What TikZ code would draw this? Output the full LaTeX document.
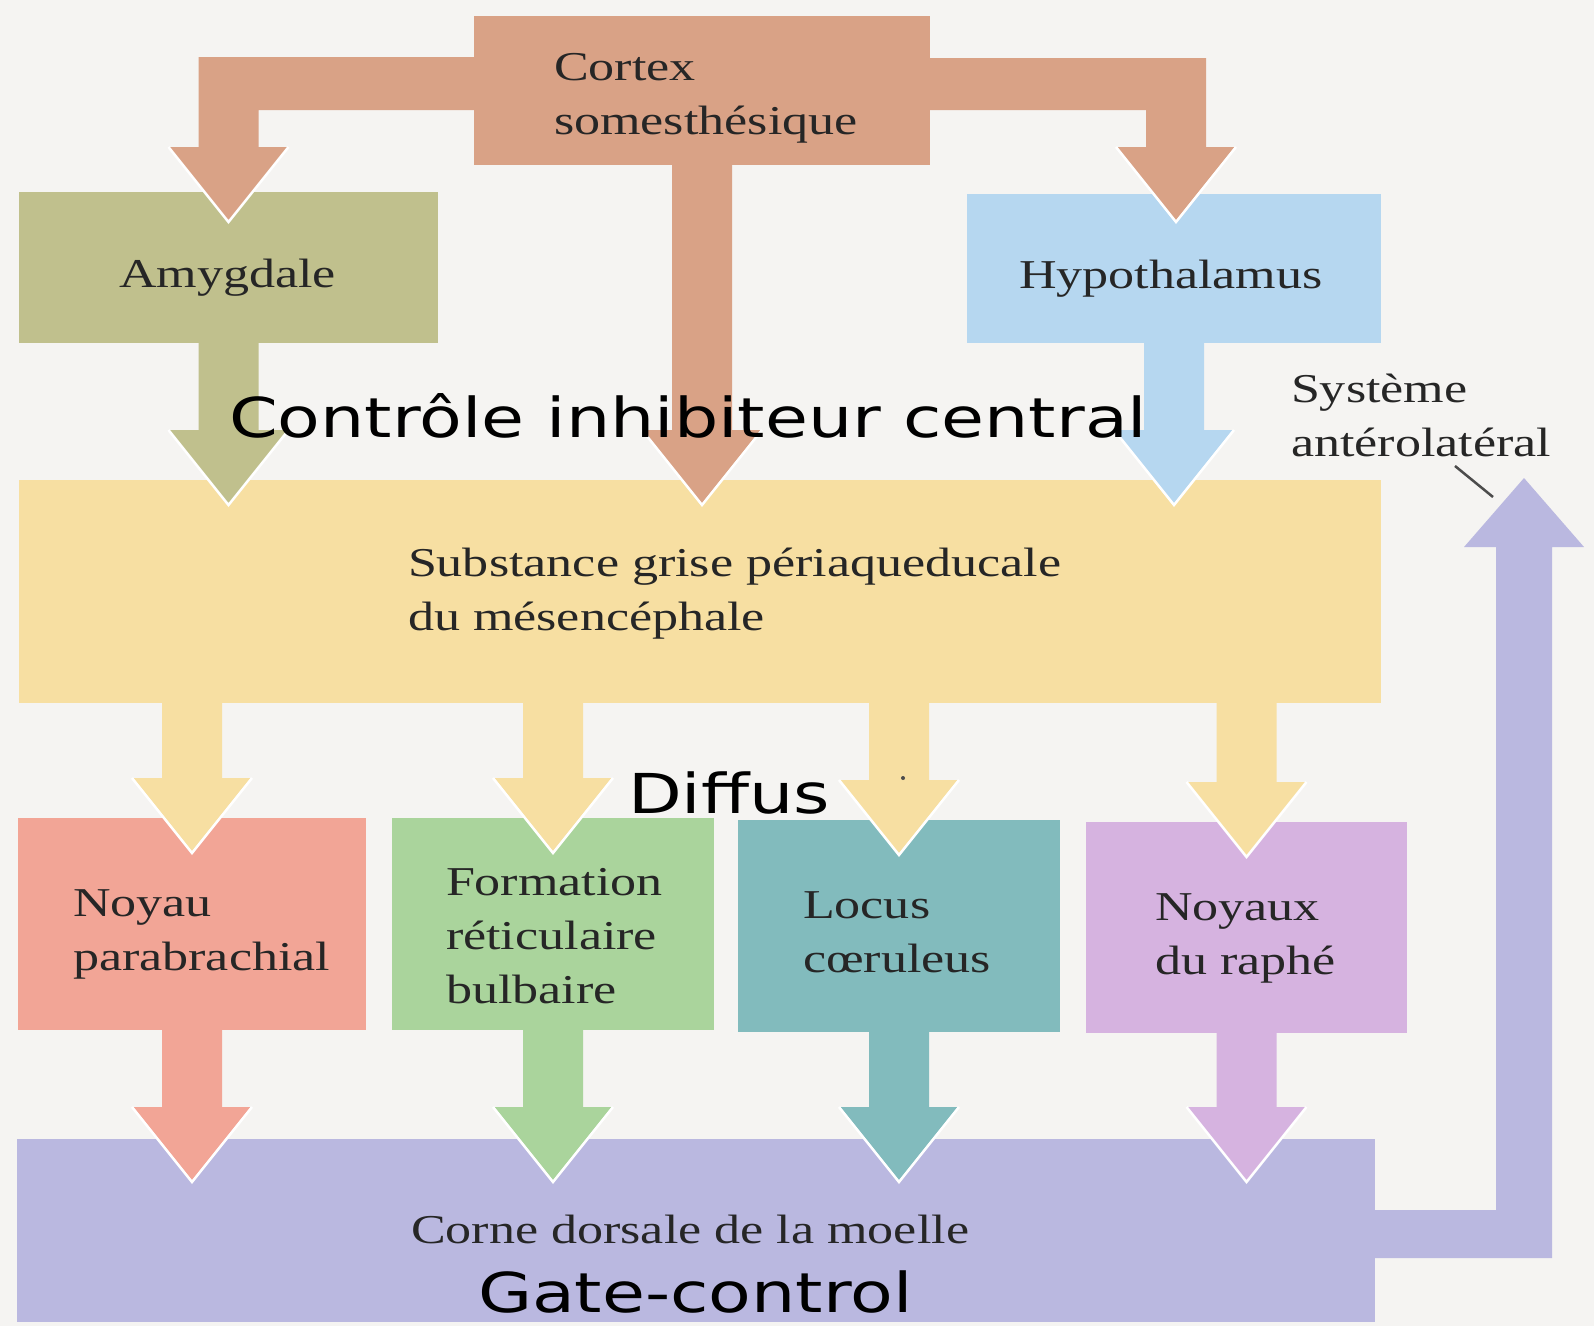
\documentclass[tikz,border=0pt]{standalone}
\usepackage{fontspec}
\setmainfont{Liberation Serif}[FakeStretch=1.27]
\newfontfamily\comicfont{DejaVu Sans}[FakeStretch=1.27]
\usetikzlibrary{calc}
\definecolor{bgc}{HTML}{F5F4F2}
\definecolor{cortexc}{HTML}{D9A286}
\definecolor{amyc}{HTML}{C0C08D}
\definecolor{hypc}{HTML}{B6D7F0}
\definecolor{pagc}{HTML}{F7DFA2}
\definecolor{noyc}{HTML}{F2A596}
\definecolor{forc}{HTML}{AAD49C}
\definecolor{locc}{HTML}{82BBBD}
\definecolor{raphc}{HTML}{D6B3E0}
\definecolor{cornec}{HTML}{BAB8E0}
\definecolor{txt}{HTML}{262626}
\newcommand\blockdown[3]{%
  \fill[#1] let \p1=#2, \p2=#3 in
    (\x2-30pt,\y1) -- (\x2+30pt,\y1) -- (\x2+30pt,\y2+75pt) -- (\x2+60pt,\y2+75pt)
    -- (\x2,\y2) -- (\x2-60pt,\y2+75pt) -- (\x2-30pt,\y2+75pt) -- cycle;
  \draw[headedge] let \p2=#3 in (\x2-60pt,\y2+75pt) -- (\x2,\y2) -- (\x2+60pt,\y2+75pt);}
\begin{document}
\begin{tikzpicture}[x=1pt,y=-1pt,
  box/.style={inner sep=0pt, outer sep=0pt, anchor=north west, draw=none},
  lab/.style={anchor=base west, inner sep=0pt, outer sep=0pt, text=txt,
    font=\fontsize{41}{54}\selectfont},
  comic/.style={anchor=base west, inner sep=0pt, outer sep=0pt, text=black,
    font=\comicfont\fontsize{55}{66}\selectfont},
  headedge/.style={white, line width=2.5pt, line join=miter}]
\fill[bgc] (0,0) rectangle (1594,1326);
\useasboundingbox (0,0) rectangle (1594,1326);

% boxes
\node[box, fill=cortexc, minimum width=456pt, minimum height=149pt] (cortex) at (474,16) {};
\node[box, fill=amyc, minimum width=419pt, minimum height=151pt] (amy) at (19,192) {};
\node[box, fill=hypc, minimum width=414pt, minimum height=149pt] (hyp) at (967,194) {};
\node[box, fill=pagc, minimum width=1362pt, minimum height=223pt] (pag) at (19,480) {};
\node[box, fill=noyc, minimum width=348pt, minimum height=212pt] (noy) at (18,818) {};
\node[box, fill=forc, minimum width=322pt, minimum height=212pt] (form) at (392,818) {};
\node[box, fill=locc, minimum width=322pt, minimum height=212pt] (loc) at (738,820) {};
\node[box, fill=raphc, minimum width=321pt, minimum height=211pt] (raph) at (1086,822) {};
\node[box, fill=cornec, minimum width=1358pt, minimum height=183pt] (corne) at (17,1139) {};

% elbow arrows from cortex
\fill[cortexc] let \p1=(cortex.north west), \p2=($(amy.north)+(0,30)$) in
  (\x1+1pt,\y1-41pt) -- (\x2-30pt,\y1-41pt) -- (\x2-30pt,\y2+75pt) -- (\x2-60pt,\y2+75pt)
  -- (\x2,\y2) -- (\x2+60pt,\y2+75pt) -- (\x2+30pt,\y2+75pt) -- (\x2+30pt,\y1-94pt)
  -- (\x1+1pt,\y1-94pt) -- cycle;
\draw[headedge] let \p2=($(amy.north)+(0,30)$) in (\x2-60pt,\y2+75pt) -- (\x2,\y2) -- (\x2+60pt,\y2+75pt);
\fill[cortexc] let \p1=(cortex.north east), \p2=($(hyp.north)+(2,28)$) in
  (\x1-1pt,\y1-42pt) -- (\x2+30pt,\y1-42pt) -- (\x2+30pt,\y2+75pt) -- (\x2+60pt,\y2+75pt)
  -- (\x2,\y2) -- (\x2-60pt,\y2+75pt) -- (\x2-30pt,\y2+75pt) -- (\x2-30pt,\y1-94pt)
  -- (\x1-1pt,\y1-94pt) -- cycle;
\draw[headedge] let \p2=($(hyp.north)+(2,28)$) in (\x2-60pt,\y2+75pt) -- (\x2,\y2) -- (\x2+60pt,\y2+75pt);

% arrows into PAG
\blockdown{cortexc}{(cortex.south)}{($(cortex.south |- pag.north)+(0,25)$)}
\blockdown{amyc}{(amy.south)}{($(amy.south |- pag.north)+(0,25)$)}
\blockdown{hypc}{(hyp.south)}{($(hyp.south |- pag.north)+(0,25)$)}

% arrows from PAG
\blockdown{pagc}{(noy.north |- pag.south)}{($(noy.north)+(0,35)$)}
\blockdown{pagc}{(form.north |- pag.south)}{($(form.north)+(0,35)$)}
\blockdown{pagc}{(loc.north |- pag.south)}{($(loc.north)+(0,35)$)}
\blockdown{pagc}{(raph.north |- pag.south)}{($(raph.north)+(0,35)$)}

% arrows into corne
\blockdown{noyc}{(noy.south)}{($(noy.south |- corne.north)+(0,43)$)}
\blockdown{forc}{(form.south)}{($(form.south |- corne.north)+(0,43)$)}
\blockdown{locc}{(loc.south)}{($(loc.south |- corne.north)+(0,43)$)}
\blockdown{raphc}{(raph.south)}{($(raph.south |- corne.north)+(0,43)$)}

% ascending arrow (systeme anterolateral)
\coordinate (saltip) at (1524,478);
\fill[cornec] let \p1=(corne.south east), \p2=(saltip) in
  (\x1-1pt,\y1+112pt) -- (\x2-28pt,\y1+112pt) -- (\x2-28pt,\y2-69pt) -- (\x2-60pt,\y2-69pt)
  -- (\x2,\y2) -- (\x2+60pt,\y2-69pt) -- (\x2+28pt,\y2-69pt) -- (\x2+28pt,\y1+64pt)
  -- (\x1-1pt,\y1+64pt) -- cycle;

% labels
\node[lab] (cortexT) at (554,80) {\vtop{\hbox{Cortex}\hbox{somesthésique}}};
\node[lab] (amyT) at (119,287) {Amygdale};
\node[lab] (hypT) at (1019,288) {Hypothalamus};
\node[lab] (salT) at (1291,402) {\vtop{\hbox{Système}\hbox{antérolatéral}}};
\node[lab] (pagT) at (408,576) {\vtop{\hbox{Substance grise périaqueducale}\hbox{du mésencéphale}}};
\node[lab] (noyT) at (73,916) {\vtop{\hbox{Noyau}\hbox{parabrachial}}};
\node[lab] (formT) at (446,895) {\vtop{\hbox{Formation}\hbox{réticulaire}\hbox{bulbaire}}};
\node[lab] (locT) at (803,918) {\vtop{\hbox{Locus}\hbox{cœruleus}}};
\node[lab] (raphT) at (1155,920) {\vtop{\hbox{Noyaux}\hbox{du raphé}}};
\node[lab] (corneT) at (411,1243) {Corne dorsale de la moelle};

\node[comic] (ctrl) at (229,437) {Contrôle inhibiteur central};
\node[comic] (diffus) at (628,813) {Diffus};
\node[comic] (gate) at (478,1312) {Gate-control};

% leader line and speck
\coordinate (leadA) at (1455,466);
\coordinate (leadB) at (1493,497);
\draw[line width=2.5pt, black!70] (leadA) -- (leadB);
\fill[black!70] (903,778) circle (2pt);
\end{tikzpicture}
\end{document}
